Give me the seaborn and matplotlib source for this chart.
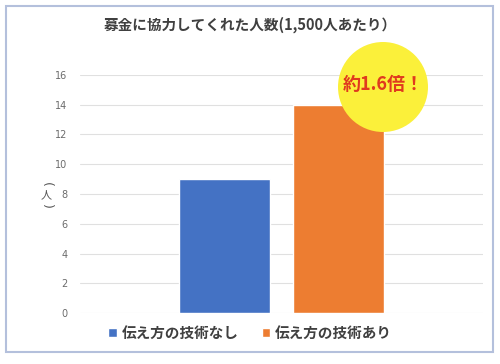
import matplotlib
matplotlib.use("Agg")
import matplotlib.pyplot as plt
import seaborn as sns
import pandas as pd
from matplotlib.patches import Circle, Rectangle
from matplotlib.transforms import IdentityTransform

# ================= DADOS =================
TITLE = "募金に協力してくれた人数(1,500人あたり）"
CATEGORIES = [""]
SERIES = ["伝え方の技術なし", "伝え方の技術あり"]
VALUES = [9, 14]
COLORS = ["#4472c4", "#ed7d31"]
Y_TICKS = [0, 2, 4, 6, 8, 10, 12, 14, 16]
CALLOUT = "約1.6倍！"

sns.set_theme(style="white")
plt.rcParams['font.family'] = ['Noto Sans CJK JP', 'DejaVu Sans']

df = pd.DataFrame({"cat": CATEGORIES * len(SERIES), "series": SERIES, "value": VALUES})

fig = plt.figure(figsize=(5, 3.64), dpi=100)
fig.patch.set_facecolor("white")
# borda externa
fig.patches.append(Rectangle((6 / 500, 12 / 364), 487 / 500, 346 / 364, transform=fig.transFigure,
                             fill=False, edgecolor="#b4c0dc", linewidth=1.5))

ax = fig.add_axes([0.16, 0.14, 0.806, 0.654])
sns.barplot(data=df, x="cat", y="value", hue="series", palette=COLORS, ax=ax,
            width=0.566, gap=0.21, legend=True, saturation=1)

ax.set_ylim(0, 16)
ax.set_yticks(Y_TICKS)
ax.set_yticklabels([str(t) for t in Y_TICKS], fontsize=7, color="#6b6b6b", family="DejaVu Sans")
ax.tick_params(axis="y", length=0, pad=9)
ax.set_xticks([])
ax.set_xlabel("")
ax.set_ylabel("")
ax.grid(axis="y", color="#e0e0e0", linewidth=0.8)
ax.set_axisbelow(True)
for s in ax.spines.values():
    s.set_visible(False)

fig.text(0.5, 1 - 25 / 364, TITLE, ha="center", va="center", fontsize=10.5,
         fontweight="bold", color="#404040")

# rótulo vertical do eixo y: (人) em escrita vertical, parênteses girados
lx = 46 / 500
fig.text(lx, 1 - 184 / 364, "(", ha="center", va="center", fontsize=9, color="#555555",
         rotation=-90, family="DejaVu Sans")
fig.text(lx, 1 - 195 / 364, "人", ha="center", va="center", fontsize=8, color="#555555")
fig.text(lx, 1 - 206 / 364, ")", ha="center", va="center", fontsize=9, color="#555555",
         rotation=-90, family="DejaVu Sans")

leg = ax.legend(loc="center", bbox_to_anchor=(250 / 500, 1 - 333 / 364), bbox_transform=fig.transFigure,
                ncol=2, frameon=False, handlelength=0.6, handleheight=0.6, handletextpad=0.3,
                columnspacing=1.6, prop={"size": 10.5, "weight": "bold"})
for t in leg.get_texts():
    t.set_color("#404040")

# destaque amarelo
circ = Circle((383, 364 - 87), 45, transform=IdentityTransform(),
              facecolor="#fbf03a", edgecolor="none", zorder=5)
fig.patches.append(circ)
fig.text(383 / 500, 1 - 85 / 364, CALLOUT, ha="center", va="center", fontsize=13,
         fontweight="bold", color="#e03a1e", zorder=6)

fig.savefig("out.png", dpi=100)
